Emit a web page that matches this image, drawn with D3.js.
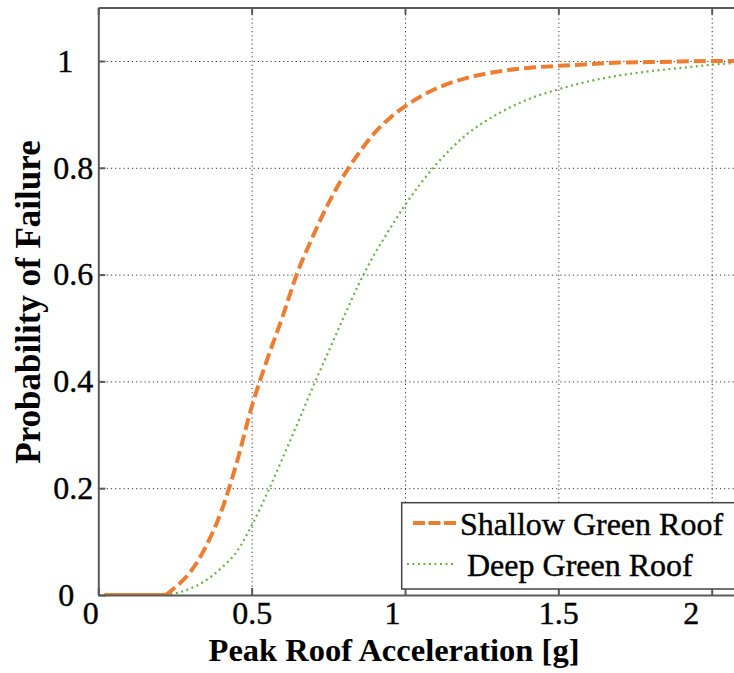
<!DOCTYPE html>
<html>
<head>
<meta charset="utf-8">
<script src="https://cdn.jsdelivr.net/npm/d3@7/dist/d3.min.js"></script>
<style>
  html, body { margin: 0; padding: 0; background: #fff; }
  svg { display: block; }
  text { font-family: "Liberation Serif", "Times New Roman", Times, serif; fill: #000; }
</style>
</head>
<body>
<svg id="chart" width="734" height="673"></svg>
<script>
// ---- data ----
const accel = [0.02, 0.1, 0.2, 0.22, 0.25, 0.3, 0.35, 0.4, 0.45, 0.5, 0.55, 0.6, 0.65, 0.7, 0.75,
               0.8, 0.85, 0.9, 0.95, 1.0, 1.1, 1.2, 1.3, 1.4, 1.5, 1.6, 1.7, 1.8, 1.9, 2.0, 2.1];
const shallowRoof = [0, 0, 0, 0, 0.014, 0.043, 0.09, 0.155, 0.245, 0.352, 0.44, 0.52, 0.605, 0.672, 0.733,
                     0.785, 0.828, 0.865, 0.893, 0.915, 0.948, 0.968, 0.98, 0.987, 0.991, 0.994, 0.997, 0.998, 0.999, 1.0, 1.0];
const deepRoof = [0, 0, 0, 0.001, 0.003, 0.012, 0.027, 0.05, 0.08, 0.13, 0.19, 0.255, 0.322, 0.39, 0.455,
                  0.52, 0.583, 0.638, 0.685, 0.73, 0.805, 0.862, 0.9, 0.928, 0.947, 0.962, 0.973, 0.981, 0.987, 0.993, 0.997];
const seriesNames = ["Shallow Green Roof", "Deep Green Roof"];
const xTicks = [0, 0.5, 1, 1.5, 2];
const yTicks = [0, 0.2, 0.4, 0.6, 0.8, 1];
const xTickLabels = ["0", "0.5", "1", "1.5", "2"];
const yTickLabels = ["0", "0.2", "0.4", "0.6", "0.8", "1"];
const xTitle = "Peak Roof Acceleration [g]";
const yTitle = "Probability of Failure";

// ---- layout ----
const svg = d3.select("#chart");
const x0 = 98.3, pxPerX = 306.7;
const y0 = 595, pxPerY = 534;
const xDomain = [0, 2.1], yDomain = [0, 1.1];
const x = d3.scaleLinear().domain(xDomain).range([x0, x0 + pxPerX * xDomain[1]]);
const y = d3.scaleLinear().domain(yDomain).range([y0, y0 - pxPerY * yDomain[1]]);
const L = x.range()[0], R = x.range()[1], B = y.range()[0], T = y.range()[1];

const axisColor = "#5a5a5a";
const tickFont = 32;
const serifStack = '"Liberation Serif", "Times New Roman", Times, serif';

// grid
const gridG = svg.append("g");
gridG.append("g").attr("transform", `translate(0,${B})`)
  .call(d3.axisBottom(x).tickValues(xTicks.filter(v => v > 0)).tickSize(-(B - T)).tickFormat(""))
  .call(g => g.select(".domain").remove())
  .call(g => g.selectAll("line").attr("stroke", "#333").attr("stroke-width", 1).attr("stroke-dasharray", "1.2,3"));
gridG.append("g").attr("transform", `translate(${L},0)`)
  .call(d3.axisLeft(y).tickValues(yTicks.filter(v => v > 0)).tickSize(-(R - L)).tickFormat(""))
  .call(g => g.select(".domain").remove())
  .call(g => g.selectAll("line").attr("stroke", "#333").attr("stroke-width", 1).attr("stroke-dasharray", "1.2,3"));

// lines
svg.append("clipPath").attr("id", "plotclip")
  .append("rect").attr("x", L).attr("y", T).attr("width", R - L).attr("height", B - T);
const shallowPts = accel.map((a, i) => [a, shallowRoof[i]]);
const deepPts = accel.map((a, i) => [a, deepRoof[i]]);
const line = d3.line().x(d => x(d[0])).y(d => y(d[1])).curve(d3.curveMonotoneX);
const plotG = svg.append("g").attr("clip-path", "url(#plotclip)");

plotG.append("path").datum(deepPts)
  .attr("d", line).attr("fill", "none")
  .attr("stroke", "#70AD47").attr("stroke-width", 2.2).attr("stroke-dasharray", "2,3.5");

// zero-valued prefix of shallow curve renders as a solid run in the reference
const lastZero = shallowRoof.lastIndexOf(0);
plotG.append("path").datum(shallowPts.slice(0, lastZero + 1))
  .attr("d", line).attr("fill", "none")
  .attr("stroke", "#ED7D31").attr("stroke-width", 4);
plotG.append("path").datum(shallowPts.slice(lastZero))
  .attr("d", line).attr("fill", "none")
  .attr("stroke", "#ED7D31").attr("stroke-width", 4).attr("stroke-dasharray", "12,5");

// axes
const xLabelShift = {"0": -8, "1": -13, "2": -21};
const yLabelShift = {"0": -19, "1": -20};
const regularText = sel => sel.style("font-family", serifStack).style("font-size", tickFont + "px")
  .attr("fill", "#000").attr("stroke", "#000").attr("stroke-width", 0.4);

const xAxis = svg.append("g").attr("transform", `translate(0,${B})`)
  .call(d3.axisBottom(x).tickValues(xTicks).tickSizeInner(-7).tickSizeOuter(0).tickPadding(6)
        .tickFormat((d, i) => xTickLabels[i]));
xAxis.attr("font-family", null).attr("font-size", null);
xAxis.select(".domain").attr("stroke", axisColor).attr("stroke-width", 2);
xAxis.selectAll(".tick line").attr("stroke", axisColor).attr("stroke-width", 2);
xAxis.selectAll(".tick text").call(regularText)
  .attr("dx", (d, i) => xLabelShift[xTickLabels[i]] || 0);

const xAxisTop = svg.append("g").attr("transform", `translate(0,${T})`)
  .call(d3.axisTop(x).tickValues(xTicks).tickSizeInner(-7).tickSizeOuter(0).tickFormat(""));
xAxisTop.select(".domain").attr("stroke", axisColor).attr("stroke-width", 2);
xAxisTop.selectAll(".tick line").attr("stroke", axisColor).attr("stroke-width", 2);

const yAxis = svg.append("g").attr("transform", `translate(${L},0)`)
  .call(d3.axisLeft(y).tickValues(yTicks).tickSizeInner(-7).tickSizeOuter(0).tickPadding(5)
        .tickFormat((d, i) => yTickLabels[i]));
yAxis.attr("font-family", null).attr("font-size", null);
yAxis.select(".domain").attr("stroke", axisColor).attr("stroke-width", 2);
yAxis.selectAll(".tick line").attr("stroke", axisColor).attr("stroke-width", 2);
yAxis.selectAll(".tick text").call(regularText)
  .attr("dx", (d, i) => yLabelShift[yTickLabels[i]] || 0);

// axis titles
svg.append("text").attr("x", 394).attr("y", 661).attr("text-anchor", "middle")
  .style("font-family", serifStack).style("font-size", "32.5px").style("font-weight", "bold").text(xTitle);
svg.append("text").attr("transform", "translate(40,302) rotate(-90)").attr("text-anchor", "middle")
  .style("font-family", serifStack).style("font-size", "35px").style("font-weight", "bold").text(yTitle);

// legend
const lg = svg.append("g");
lg.append("rect").attr("x", 401.7).attr("y", 502.7).attr("width", 400).attr("height", 86.3)
  .attr("fill", "#fff").attr("stroke", "#444").attr("stroke-width", 1.5);
const legendItems = [
  {name: seriesNames[0], color: "#ED7D31", width: 4, dash: "12,3.5", x1: 413, x2: 456, y: 523, tx: 460, ty: 535},
  {name: seriesNames[1], color: "#70AD47", width: 2.2, dash: "2,3.5", x1: 407, x2: 456, y: 564, tx: 467, ty: 576}
];
legendItems.forEach(it => {
  lg.append("line").attr("x1", it.x1).attr("x2", it.x2).attr("y1", it.y).attr("y2", it.y)
    .attr("stroke", it.color).attr("stroke-width", it.width).attr("stroke-dasharray", it.dash);
  lg.append("text").attr("x", it.tx).attr("y", it.ty).call(regularText).text(it.name);
});
</script>
</body>
</html>
